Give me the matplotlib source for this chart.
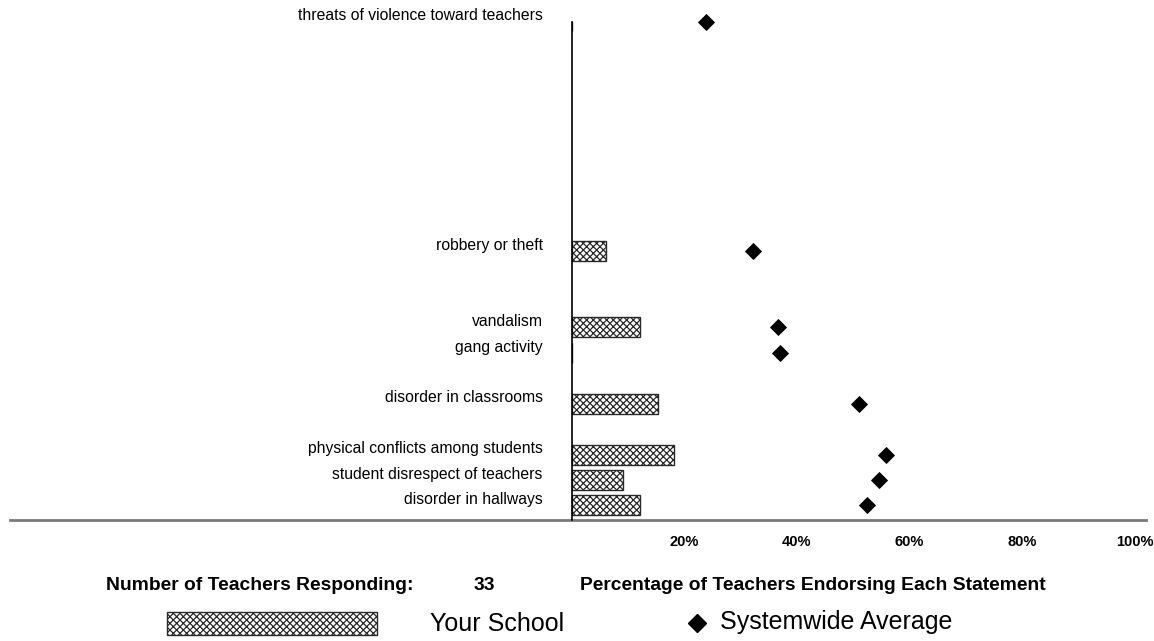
import numpy as np
import matplotlib.pyplot as plt
from matplotlib.patches import Rectangle
from matplotlib.lines import Line2D

plt.rcParams['font.family'] = ['Liberation Sans', 'DejaVu Sans']
plt.rcParams['hatch.linewidth'] = 0.9

# survey items, school result and systemwide average (percent of teachers)
statements = ['threats of violence toward teachers', 'robbery or theft',
              'vandalism', 'gang activity', 'disorder in classrooms',
              'physical conflicts among students',
              'student disrespect of teachers', 'disorder in hallways']
school_pct = [0.0, 6.1, 12.1, 0.0, 15.2, 18.2, 9.1, 12.1]
system_pct = [23.8, 32.1, 36.6, 37.0, 51.0, 55.9, 54.6, 52.4]
n_teachers = 33
tick_pct = [20, 40, 60, 80, 100]

# vertical slot of each statement
rows = [19, 10, 7, 6, 4, 2, 1, 0]

W, H = 1154, 641
fig = plt.figure(figsize=(W / 100, H / 100), dpi=100)

def fx(px):
    return px / W

def fy(py):
    return 1 - py / H

ax = fig.add_axes([fx(9.5), fy(520), fx(1136.25), 498.5 / H])
ax.set_xlim(-100, 102)
ax.set_ylim(-0.57, 19)

edge = '#2a2a2a'
hatch = 'xxxxx'
ax.barh(rows, school_pct, height=0.785, left=0, color='white',
        edgecolor=edge, hatch=hatch, linewidth=1.0, zorder=2)
ax.plot(system_pct, rows, linestyle='none', marker='D', markersize=8.6,
        color='black', markeredgewidth=0.6, clip_on=False, zorder=4)

# statement labels to the left of the axis
for label, r in zip(statements, rows):
    ax.text(-5.2, r + 0.22, label, ha='right', va='center', fontsize=11.3)

# axes lines
for s in ['top', 'right']:
    ax.spines[s].set_visible(False)
ax.spines['left'].set_position(('data', 0))
ax.spines['left'].set_color('black')
ax.spines['left'].set_linewidth(1.2)
ax.spines['left'].set_zorder(5)
ax.spines['bottom'].set_color('#7a7a7a')
ax.spines['bottom'].set_linewidth(2)

ax.set_yticks([])
ax.set_xticks(tick_pct)
ax.set_xticklabels(['%d%%' % t for t in tick_pct], fontweight='bold',
                   fontsize=10.5)
ax.tick_params(axis='x', length=0, pad=11)

# footer text
fig.text(fx(106), fy(585), 'Number of Teachers Responding:', fontsize=13.9,
         fontweight='bold', va='center', ha='left')
fig.text(fx(484), fy(585), str(n_teachers), fontsize=13.9,
         fontweight='bold', va='center', ha='center')
fig.text(fx(580), fy(585), 'Percentage of Teachers Endorsing Each Statement',
         fontsize=13.9, fontweight='bold', va='center', ha='left')

# legend
fig.add_artist(Rectangle((fx(167), fy(635)), fx(210), 23 / H,
                         transform=fig.transFigure, facecolor='white',
                         edgecolor=edge, hatch=hatch, linewidth=1.0))
fig.text(fx(430), fy(624), 'Your School', fontsize=18, va='center',
         ha='left')
fig.add_artist(Line2D([fx(697)], [fy(623)], transform=fig.transFigure,
                      linestyle='none', marker='D', markersize=9,
                      color='black'))
fig.text(fx(720), fy(622), 'Systemwide Average', fontsize=18, va='center',
         ha='left')

fig.savefig('out.png', dpi=100)
